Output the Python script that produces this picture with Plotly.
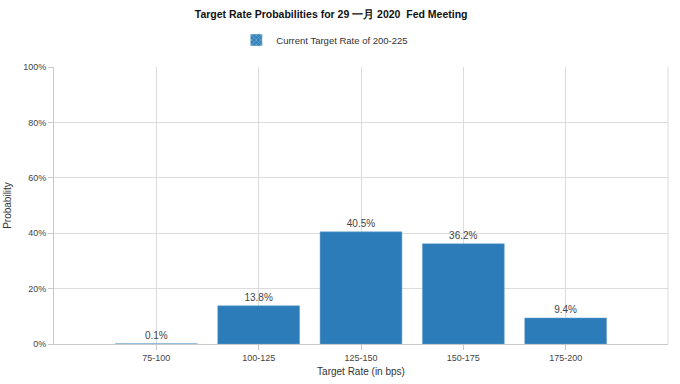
import plotly.graph_objects as go

categories = ["75-100", "100-125", "125-150", "150-175", "175-200"]
probabilities = [0.1, 13.8, 40.5, 36.2, 9.4]
labels = ["0.1%", "13.8%", "40.5%", "36.2%", "9.4%"]
y_ticks = [0, 20, 40, 60, 80, 100]
y_tick_labels = ["0%", "20%", "40%", "60%", "80%", "100%"]

fig = go.Figure()
fig.add_trace(go.Bar(
    x=categories, y=probabilities, text=labels, textposition="outside",
    textfont=dict(size=10, color="#444", family="Liberation Sans"),
    marker=dict(color="#2b7cb8", line=dict(color="#6aa3cf", width=0.5)),
    showlegend=False, cliponaxis=False, hoverinfo="skip",
))
fig.add_trace(go.Bar(
    x=[categories[0]], y=[None], name="Current Target Rate of 200-225",
    marker=dict(color="#2b7cb8", pattern=dict(shape="x", fgcolor="#e6f0f8", size=4, solidity=0.35)),
    showlegend=True,
))

fig.update_layout(
    width=680, height=384,
    margin=dict(l=54, r=12, t=67, b=40, autoexpand=False),
    paper_bgcolor="white", plot_bgcolor="white",
    barmode="overlay",
    bargap=0.2,
    font=dict(family="Liberation Sans", size=9, color="#444"),
    title=dict(text="<b>Target Rate Probabilities for 29 一月 2020  Fed Meeting</b>",
               x=0.487, xanchor="center", yref="container", y=1 - 14 / 384, yanchor="middle",
               font=dict(size=10.5, color="#111", family="Liberation Sans")),
    legend=dict(orientation="h", x=0.441, xanchor="center", yref="container", y=1 - 40 / 384,
                yanchor="middle", font=dict(size=9.5, color="#333")),
    xaxis=dict(type="category", range=[-1, 5], showgrid=True, gridcolor="#dcdcdc",
               ticks="outside", ticklen=5, tickcolor="#c8c8c8", automargin=False,
               showline=True, linecolor="#c8c8c8", mirror=False,
               tickfont=dict(size=9, color="#444"),
               title=dict(text="Target Rate (in bps)", font=dict(size=10, color="#333"), standoff=6)),
    yaxis=dict(range=[0, 100], tickvals=y_ticks, ticktext=y_tick_labels, showgrid=True,
               gridcolor="#dcdcdc", automargin=False,
               ticks="outside", ticklen=5, tickcolor="#c8c8c8",
               showline=True, linecolor="#c8c8c8", zeroline=False,
               tickfont=dict(size=9, color="#444"),
               title=dict(text="Probability", font=dict(size=10, color="#333"), standoff=9)),
    shapes=[dict(type="line", xref="paper", yref="paper", x0=1, x1=1, y0=0, y1=1,
                 line=dict(color="#dcdcdc", width=1))],
)

fig.write_html("out.html", config={"displayModeBar": False},
               post_script="document.body.style.margin='0';document.body.style.overflow='hidden';")
